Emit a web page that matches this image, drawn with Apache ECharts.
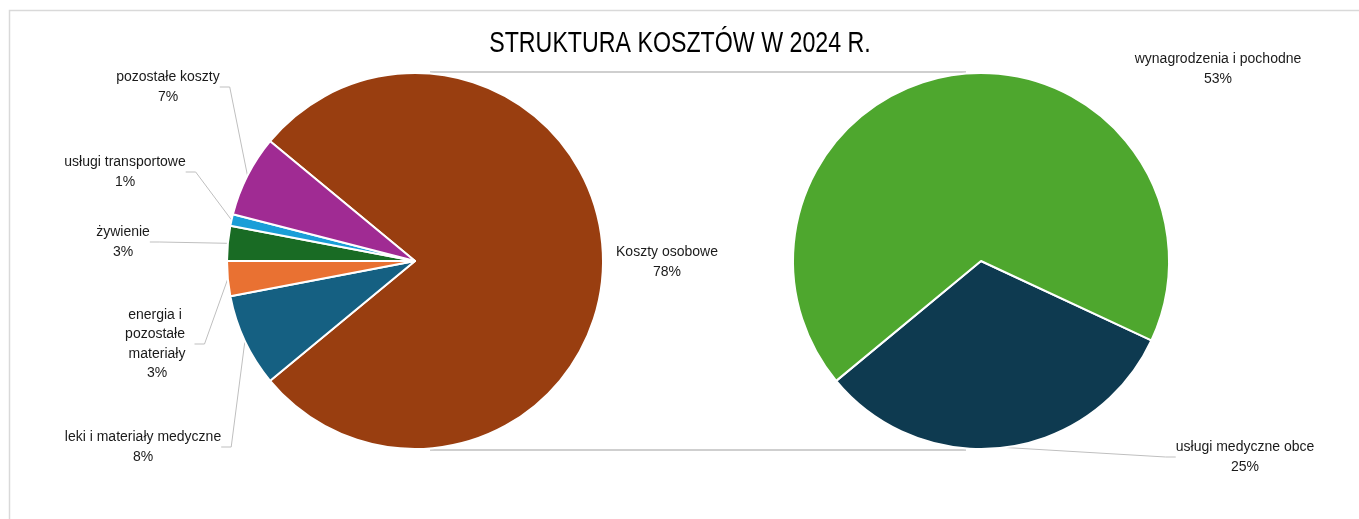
<!DOCTYPE html>
<html>
<head>
<meta charset="utf-8">
<script src="https://cdn.jsdelivr.net/npm/echarts@6/dist/echarts.min.js"></script>
<style>
  html, body { margin: 0; padding: 0; background: #fff; }
  #chart { width: 1359px; height: 519px; }
</style>
</head>
<body>
<div id="chart"></div>
<script>
// main pie (share of total, %)
const mainNames  = ['Koszty osobowe', 'leki i materiały medyczne', 'energia i pozostałe materiały', 'żywienie', 'usługi transportowe', 'pozostałe koszty'];
const mainValues = [78, 8, 3, 3, 1, 7];
const mainColors = ['#993E10', '#156082', '#E97132', '#196B24', '#1A9ED8', '#A02B93'];

// breakdown of "Koszty osobowe" (share of total, %)
const subNames  = ['usługi medyczne obce', 'wynagrodzenia i pochodne'];
const subValues = [25, 53];
const subColors = ['#0E3A50', '#4EA72E'];

// label anchors (x, y of text block centre)
const mainLabelPos = [[667, 262], [143, 447], [157, 344], [123, 242], [125, 172], [168, 87]];
const subLabelPos  = [[1245, 457], [1218, 69]];

const cy = 261, r = 188;
const leftX = 415, rightX = 981;

const chart = echarts.init(document.getElementById('chart'));

const labelFont = {
  fontFamily: 'Liberation Sans, Arial, sans-serif',
  fontSize: 14,
  color: '#1a1a1a',
  lineHeight: 19.5,
  align: 'center'
};

function place(pos) {
  return function (p) {
    const xy = pos[p.dataIndex];
    return { x: xy[0], y: xy[1], align: 'center', verticalAlign: 'middle' };
  };
}

chart.setOption({
  animation: false,
  graphic: [
    { type: 'rect', shape: { x: 9.5, y: 10.5, width: 1400, height: 600 },
      style: { fill: 'none', stroke: '#D9D9D9', lineWidth: 1.5 }, silent: true },
    // condensed title (no narrow face installed, so squeeze a regular one)
    { type: 'text', x: 680, y: 44, scaleX: 0.8, originX: 0, originY: 0,
      style: {
        text: 'STRUKTURA KOSZTÓW W 2024 R.',
        font: '29px "Liberation Sans", Arial, sans-serif',
        fill: '#000', align: 'center', verticalAlign: 'middle'
      }, silent: true },
    { type: 'line', shape: { x1: leftX + 15, y1: cy - r - 1, x2: rightX - 15, y2: cy - r - 1 },
      style: { stroke: '#BFBFBF', lineWidth: 1.5 }, silent: true },
    { type: 'line', shape: { x1: leftX + 15, y1: cy + r + 1, x2: rightX - 15, y2: cy + r + 1 },
      style: { stroke: '#BFBFBF', lineWidth: 1.5 }, silent: true }
  ],
  series: [
    {
      type: 'pie',
      center: [leftX, cy],
      radius: r,
      startAngle: 140.4,
      clockwise: true,
      avoidLabelOverlap: false,
      itemStyle: { borderColor: '#fff', borderWidth: 2 },
      label: Object.assign({
        show: true,
        position: 'outside',
        formatter: '{b}\n{c}%'
      }, labelFont),
      labelLine: { show: true, length: 10, length2: 10, lineStyle: { color: '#BFBFBF', width: 1 } },
      labelLayout: place(mainLabelPos),
      data: mainNames.map((n, i) => {
        const d = { name: n, value: mainValues[i], itemStyle: { color: mainColors[i] } };
        if (i === 0) d.labelLine = { show: false };
        if (i === 2) d.label = { width: 75, overflow: 'break' };
        return d;
      })
    },
    {
      type: 'pie',
      center: [rightX, cy],
      radius: r,
      startAngle: -25,
      clockwise: true,
      avoidLabelOverlap: false,
      itemStyle: { borderColor: '#fff', borderWidth: 2 },
      label: Object.assign({
        show: true,
        position: 'outside',
        formatter: '{b}\n{c}%'
      }, labelFont),
      labelLine: { show: true, length: 10, length2: 10, lineStyle: { color: '#BFBFBF', width: 1 } },
      labelLayout: place(subLabelPos),
      data: subNames.map((n, i) => {
        const d = { name: n, value: subValues[i], itemStyle: { color: subColors[i] } };
        if (i === 1) d.labelLine = { show: false };
        return d;
      })
    }
  ]
});
</script>
</body>
</html>
